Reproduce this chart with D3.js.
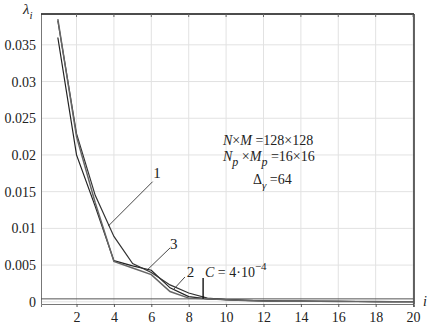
<!DOCTYPE html>
<html>
<head>
<meta charset="utf-8">
<script src="https://cdn.jsdelivr.net/npm/d3@7"></script>
<style>
  body { margin: 0; background: #fff; }
  svg text { font-family: "Liberation Serif", "Times New Roman", "DejaVu Serif", serif; fill: #222; }
</style>
</head>
<body>
<svg id="chart" width="434" height="329"></svg>
<script>
// eigenvalue index
const indices = d3.range(1, 21);
// curve values lambda_i
const curve1 = [0.0383, 0.0229, 0.0145, 0.0089, 0.0052, 0.0040, 0.0023, 0.0012, 0.0005, 0.00030, 0.00020, 0.00014, 0.00010, 0.00008, 0.00006, 0.00005, 0.00004, 0.00003, 0.00002, 0.00001];
const curve2 = [0.0385, 0.0225, 0.0135, 0.0055, 0.0046, 0.0037, 0.0014, 0.0005, 0.0004, 0.00028, 0.00018, 0.00012, 0.00009, 0.00007, 0.00006, 0.00005, 0.00004, 0.00003, 0.00002, 0.00001];
const curve3 = [0.0360, 0.0200, 0.0130, 0.0056, 0.0049, 0.0043, 0.0019, 0.0007, 0.0004, 0.00030, 0.00019, 0.00013, 0.00010, 0.00008, 0.00006, 0.00005, 0.00004, 0.00003, 0.00002, 0.00001];
const xTicks = [2, 4, 6, 8, 10, 12, 14, 16, 18, 20];
const yTicks = [0, 0.005, 0.01, 0.015, 0.02, 0.025, 0.03, 0.035];
const yTickLabels = ["0", "0.005", "0.01", "0.015", "0.02", "0.025", "0.03", "0.035"];
const threshold = 0.0004;   // C = 4*10^-4
const crossIndex = 8.77;

const FONT = "Liberation Serif, Times New Roman, DejaVu Serif, serif";
const svg = d3.select("#chart");
const x = d3.scaleLinear().domain([0.1, 20.05]).range([41, 414]);
const y = d3.scaleLinear().domain([-0.0003, 0.0392]).range([304, 14]);

// grid
svg.append("g").selectAll("line").data(xTicks).enter().append("line")
    .attr("x1", d => x(d)).attr("x2", d => x(d))
    .attr("y1", y.range()[1]).attr("y2", y.range()[0])
    .attr("stroke", "#e2e2e2").attr("stroke-width", 1);
svg.append("g").selectAll("line").data(yTicks).enter().append("line")
    .attr("x1", x.range()[0]).attr("x2", x.range()[1])
    .attr("y1", d => y(d)).attr("y2", d => y(d))
    .attr("stroke", "#e2e2e2").attr("stroke-width", 1);

// axes
const xAxis = svg.append("g")
    .attr("transform", `translate(0,${y.range()[0]})`)
    .call(d3.axisBottom(x).tickValues(xTicks).tickSize(3).tickPadding(5));
xAxis.attr("font-family", FONT);
xAxis.select(".domain").attr("stroke", "#777");
xAxis.selectAll(".tick line").attr("stroke", "#555");
xAxis.selectAll("text").attr("font-size", 14).attr("fill", "#222");

const yAxis = svg.append("g")
    .attr("transform", `translate(${x.range()[0]},0)`)
    .call(d3.axisLeft(y).tickValues(yTicks).tickFormat((d, i) => yTickLabels[i]).tickSize(0).tickPadding(5));
yAxis.attr("font-family", FONT);
yAxis.select(".domain").attr("stroke", "#777");
yAxis.selectAll("text").attr("font-size", 14).attr("fill", "#222");

// top and right frame
svg.append("line").attr("x1", x.range()[0]).attr("x2", x.range()[1])
    .attr("y1", y.range()[1]).attr("y2", y.range()[1]).attr("stroke", "#111").attr("stroke-width", 1.3);
svg.append("line").attr("x1", x.range()[1]).attr("x2", x.range()[1])
    .attr("y1", y.range()[1]).attr("y2", y.range()[0]).attr("stroke", "#111").attr("stroke-width", 1.3);
svg.append("g").selectAll("line").data(xTicks).enter().append("line")
    .attr("x1", d => x(d)).attr("x2", d => x(d))
    .attr("y1", y.range()[1]).attr("y2", y.range()[1] + 3)
    .attr("stroke", "#666");

// threshold line C
svg.append("line").attr("x1", x.range()[0]).attr("x2", x.range()[1])
    .attr("y1", y(threshold)).attr("y2", y(threshold))
    .attr("stroke", "#555").attr("stroke-width", 1);

// curves
const line = d3.line().x((d, i) => x(indices[i])).y(d => y(d));
const curves = [
    { data: curve3, color: "#222", width: 1.2 },
    { data: curve1, color: "#333", width: 1.2 },
    { data: curve2, color: "#666", width: 1.5 }
];
svg.append("g").selectAll("path").data(curves).enter().append("path")
    .attr("d", d => line(d.data))
    .attr("fill", "none")
    .attr("stroke", d => d.color)
    .attr("stroke-width", d => d.width);

// vertical marker where curves cross C
svg.append("line").attr("x1", x(crossIndex)).attr("x2", x(crossIndex))
    .attr("y1", y(0.00324)).attr("y2", y(threshold))
    .attr("stroke", "#000").attr("stroke-width", 1.3);

// curve labels with leaders
const labels = [
    { text: "1", tx: 6.3, ty: 0.0175, from: [6.07, 0.01636], to: [3.70, 0.01032] },
    { text: "3", tx: 7.2, ty: 0.0079, from: [7.0, 0.00733], to: [5.78, 0.00433] },
    { text: "2", tx: 8.1, ty: 0.0041, from: [7.8, 0.00338], to: [7.16, 0.0016] }
];
labels.forEach(l => {
    svg.append("line")
        .attr("x1", x(l.from[0])).attr("y1", y(l.from[1]))
        .attr("x2", x(l.to[0])).attr("y2", y(l.to[1]))
        .attr("stroke", "#333").attr("stroke-width", 0.9);
    svg.append("text").attr("x", x(l.tx)).attr("y", y(l.ty) + 5)
        .attr("font-family", FONT)
        .attr("text-anchor", "middle").attr("font-size", 15).text(l.text);
});

// C = 4*10^-4
const cLabel = svg.append("text").attr("x", 205).attr("y", 277).attr("font-size", 14).attr("font-family", FONT);
cLabel.append("tspan").attr("font-style", "italic").text("C");
cLabel.append("tspan").text(" = 4·10");
cLabel.append("tspan").attr("dy", -7).attr("font-size", 11).text("−4");

// parameters
const p1 = svg.append("text").attr("x", 223).attr("y", 145).attr("font-size", 14).attr("font-family", FONT);
p1.append("tspan").attr("font-style", "italic").text("N");
p1.append("tspan").text("×");
p1.append("tspan").attr("font-style", "italic").text("M");
p1.append("tspan").text(" =128×128");

const p2 = svg.append("text").attr("x", 223).attr("y", 161).attr("font-size", 14).attr("font-family", FONT);
p2.append("tspan").attr("font-style", "italic").text("N");
p2.append("tspan").attr("font-style", "italic").attr("font-size", 12).attr("dy", 5).text("p");
p2.append("tspan").attr("dy", -5).text(" ×");
p2.append("tspan").attr("font-style", "italic").text("M");
p2.append("tspan").attr("font-style", "italic").attr("font-size", 12).attr("dy", 5).text("p");
p2.append("tspan").attr("dy", -5).text(" =16×16");

const p3 = svg.append("text").attr("x", 253).attr("y", 184).attr("font-size", 14).attr("font-family", FONT);
p3.append("tspan").text("Δ");
p3.append("tspan").attr("font-style", "italic").attr("font-size", 11).attr("dy", 5).text("γ");
p3.append("tspan").attr("dy", -5).text(" =64");

// axis titles
const yl = svg.append("text").attr("x", 23).attr("y", 14).attr("font-size", 15).attr("font-family", FONT);
yl.append("tspan").attr("font-style", "italic").text("λ");
yl.append("tspan").attr("font-style", "italic").attr("font-size", 11).attr("dy", 5).text("i");
svg.append("text").attr("x", 423).attr("y", 306).attr("font-size", 14).attr("font-family", FONT)
    .attr("font-style", "italic").text("i");
</script>
</body>
</html>
